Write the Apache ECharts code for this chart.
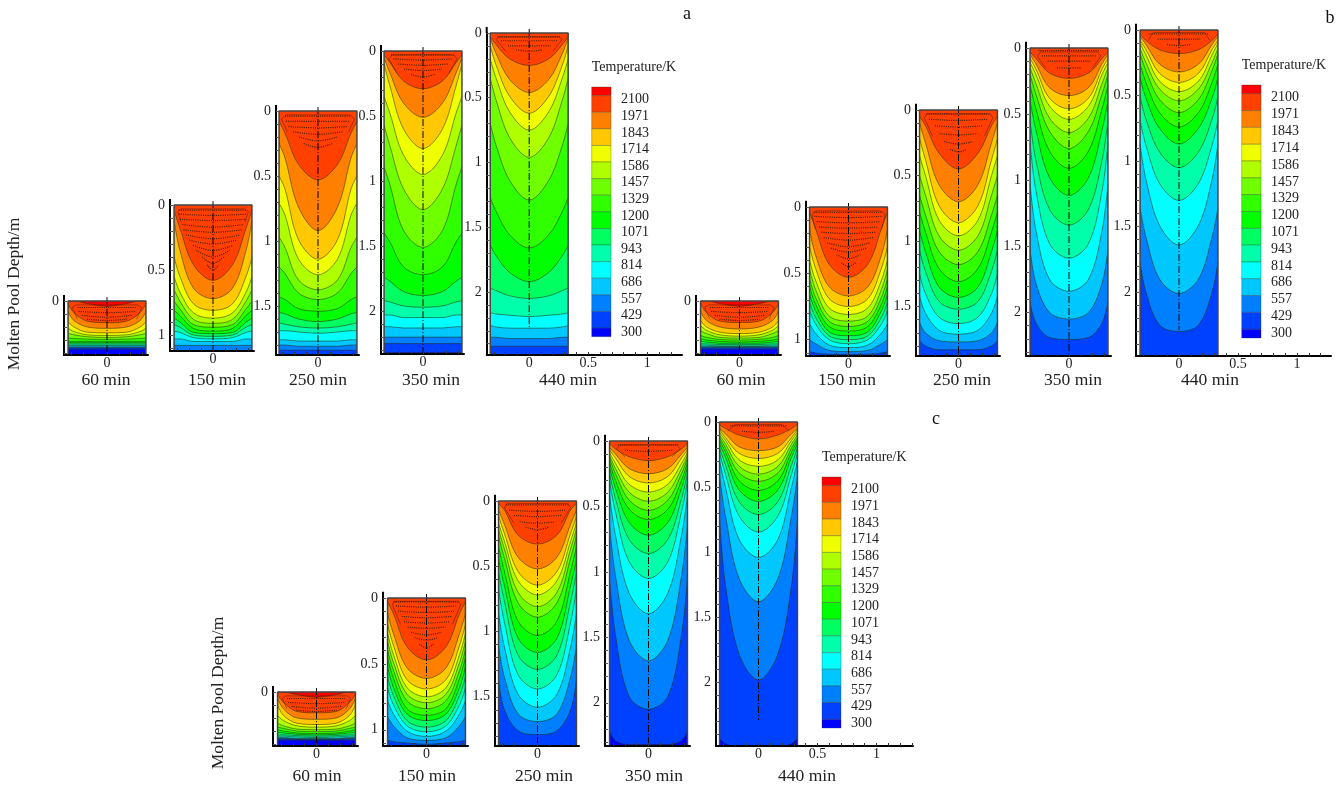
<!DOCTYPE html>
<html><head><meta charset="utf-8">
<style>html,body{margin:0;padding:0;background:#fff}#c{width:1344px;height:789px}</style>
<script src="https://cdn.jsdelivr.net/npm/echarts@6/dist/echarts.min.js"></script>
</head><body><div id="c"></div>
<script>
// temperature levels and colour bands (index 0 = hotter than 2100)
const levels=[2100,1971,1843,1714,1586,1457,1329,1200,1071,943,814,686,557,429,300];
const bandColors=['#ff0000','#ff4000','#ff8000','#ffc800','#f0ff00','#b0ff00','#70ff00','#30ff00','#00ff00','#00ff60','#00ffaa','#00ffff','#00c8ff','#0080ff','#0040ff','#0000ff'];
// half-width positions (m) at which each isotherm was read
const sampleX=[0.33,0.28,0.165,0];
// isotherm depth (m) at sampleX, one row per level from 2100 down to 300
const a60=[[0,0,.02,.04],[.02,.09,.155,.167],[.08,.15,.20,.21],[.16,.20,.24,.245],[.21,.235,.26,.265],[.25,.26,.275,.28],[.285,.288,.293,.295],[.31,.31,.31,.31],[.32,.32,.32,.32],[.33,.33,.33,.33],[.34,.34,.34,.34],[.345,.345,.345,.345],[.355,.355,.355,.355],[.36,.36,.36,.36],[.37,.37,.37,.37]];
const a150=[null,[.04,.18,.46,.58],[.12,.35,.64,.72],[.40,.55,.76,.81],[.55,.67,.83,.87],[.65,.74,.88,.91],[.74,.80,.92,.94],[.81,.85,.95,.97],[.87,.90,.98,.99],[.92,.94,1.00,1.01],[.97,.98,1.02,1.03],[1.03,1.03,1.05,1.05],[1.08,1.08,1.08,1.08],null,null];
const a250=[null,[.08,.17,.41,.53],[.25,.36,.74,.92],[.50,.60,.99,1.14],[.71,.80,1.14,1.26],[.97,1.05,1.30,1.375],[1.20,1.25,1.40,1.45],[1.43,1.45,1.52,1.54],[1.55,1.56,1.60,1.62],[1.63,1.64,1.66,1.67],[1.69,1.69,1.70,1.71],[1.76,1.76,1.77,1.77],[1.80,1.80,1.81,1.81],[1.84,1.84,1.84,1.84],null];
const a350=[null,[.03,.09,.23,.29],[.05,.17,.40,.51],[.10,.27,.60,.75],[.35,.48,.80,.95],[.57,.73,1.06,1.22],[.89,1.03,1.38,1.51],[1.40,1.47,1.66,1.72],[1.74,1.77,1.85,1.88],[1.92,1.93,1.96,1.97],[2.03,2.03,2.05,2.05],[2.12,2.12,2.13,2.13],[2.20,2.20,2.20,2.20],[2.25,2.25,2.25,2.25],[2.32,2.32,2.32,2.32]];
const a440=[null,[.03,.09,.20,.25],[.04,.16,.36,.46],[.10,.25,.49,.62],[.20,.35,.61,.75],[.35,.52,.81,.96],[.70,.87,1.14,1.29],[1.27,1.38,1.56,1.66],[1.64,1.72,1.85,1.92],[1.97,1.99,2.03,2.05],[2.16,2.17,2.18,2.19],[2.26,2.27,2.28,2.28],[2.35,2.35,2.36,2.36],[2.42,2.42,2.42,2.42],null];
const b60=[[0,0,.02,.04],[.02,.09,.155,.165],[.08,.15,.20,.215],[.15,.20,.24,.25],[.19,.225,.26,.27],[.23,.25,.28,.285],[.265,.28,.295,.30],[.29,.30,.31,.315],[.31,.315,.325,.325],[.33,.33,.335,.335],[.34,.34,.345,.345],[.35,.35,.35,.35],[.355,.355,.355,.355],[.36,.36,.36,.36],[.37,.37,.37,.37]];
const b150=[null,[.04,.16,.43,.53],[.17,.36,.60,.67],[.30,.46,.69,.75],[.40,.55,.76,.81],[.47,.62,.82,.86],[.54,.68,.86,.90],[.60,.73,.90,.935],[.66,.78,.94,.97],[.72,.83,.97,1.00],[.78,.88,1.00,1.03],[.88,.95,1.04,1.06],[1.0,1.03,1.08,1.09],[1.09,1.10,1.11,1.11],null];
const b250=[null,[.05,.12,.33,.45],[.10,.25,.57,.70],[.22,.38,.73,.86],[.35,.50,.84,.96],[.50,.65,.96,1.07],[.65,.80,1.08,1.18],[.78,.93,1.21,1.31],[.92,1.08,1.35,1.43],[1.07,1.23,1.46,1.52],[1.25,1.40,1.58,1.63],[1.42,1.55,1.68,1.71],[1.62,1.70,1.76,1.77],[1.76,1.80,1.83,1.83],null];
const b350=[null,[.03,.08,.19,.23],[.05,.12,.30,.36],[.08,.16,.38,.46],[.11,.20,.44,.54],[.15,.27,.53,.64],[.20,.35,.63,.76],[.28,.46,.78,.91],[.40,.62,.98,1.115],[.55,.85,1.22,1.34],[.72,1.08,1.48,1.59],[1.03,1.38,1.75,1.84],[1.52,1.78,2.00,2.05],[1.92,2.08,2.19,2.205],[2.33,2.34,2.35,2.35]];
const b440=[null,[.03,.08,.15,.18],[.05,.11,.26,.32],[.08,.15,.33,.40],[.10,.19,.39,.47],[.14,.25,.45,.54],[.18,.31,.53,.63],[.26,.40,.63,.74],[.36,.52,.75,.87],[.51,.68,.93,1.05],[.69,.88,1.17,1.30],[.87,1.14,1.49,1.64],[1.36,1.58,1.90,2.01],[1.77,2.0,2.25,2.30],null];
const c60=[[0,0,.02,.04],[.02,.08,.15,.16],[.05,.13,.20,.21],[.10,.18,.24,.25],[.18,.22,.26,.27],[.24,.26,.285,.29],[.27,.28,.30,.305],[.29,.30,.315,.32],[.31,.315,.325,.33],[.33,.33,.335,.34],[.34,.34,.345,.35],[.35,.35,.355,.355],[.355,.355,.36,.36],[.36,.36,.365,.365],[.37,.37,.37,.37]];
const c150=[null,[.03,.12,.37,.47],[.12,.27,.53,.61],[.20,.36,.62,.69],[.27,.43,.68,.75],[.33,.49,.73,.795],[.39,.55,.78,.84],[.45,.61,.84,.89],[.52,.68,.88,.93],[.60,.74,.93,.98],[.68,.81,.97,1.015],[.78,.88,1.01,1.05],[.90,.97,1.06,1.08],[1.08,1.09,1.10,1.11],null];
const c250=[null,[.02,.07,.26,.33],[.07,.18,.43,.52],[.12,.25,.54,.645],[.17,.31,.61,.72],[.22,.37,.70,.81],[.27,.44,.78,.89],[.35,.54,.92,1.03],[.45,.65,1.05,1.16],[.55,.77,1.18,1.29],[.68,.93,1.33,1.44],[.86,1.12,1.48,1.58],[1.11,1.35,1.63,1.69],[1.37,1.60,1.76,1.79],null];
const c350=[null,[.02,.06,.12,.15],[.05,.10,.21,.25],[.07,.13,.27,.32],[.09,.17,.33,.39],[.11,.21,.39,.46],[.13,.25,.45,.53],[.16,.30,.52,.60],[.20,.36,.62,.72],[.25,.44,.75,.86],[.31,.54,.92,1.05],[.42,.72,1.16,1.32],[.65,1.03,1.52,1.68],[1.05,1.48,1.95,2.05],[2.22,2.29,2.32,2.32]];
const c440=[null,[.02,.05,.10,.13],[.05,.09,.19,.22],[.06,.12,.24,.28],[.08,.14,.29,.34],[.10,.17,.34,.40],[.12,.20,.39,.455],[.14,.23,.45,.525],[.17,.27,.52,.61],[.20,.33,.61,.71],[.24,.40,.72,.845],[.30,.50,.90,1.04],[.42,.72,1.20,1.38],[.75,1.25,1.78,1.98],[2.43,2.47,2.50,2.50]];
// velocity streak rows: half-width, depth at its ends, depth at centre
const flowA60=[[.25,.05,.05],[.24,.08,.09],[.21,.11,.125],[.17,.14,.15]];
const flowA150=[[.29,.04,.04],[.29,.07,.08],[.28,.11,.12],[.26,.15,.17],[.25,.19,.21],[.23,.23,.26],[.2,.27,.3],[.17,.31,.35],[.14,.35,.4],[.09,.4,.45],[.05,.46,.5]];
const flowA250=[[.28,.04,.04],[.27,.08,.08],[.25,.12,.13],[.21,.16,.18],[.16,.2,.23],[.12,.25,.28]];
const flowA350=[[.27,.03,.03],[.25,.06,.07],[.21,.1,.11],[.16,.14,.15],[.1,.18,.2]];
const flowA440=[[.27,.03,.03],[.24,.06,.06],[.18,.1,.1],[.11,.13,.14]];
const flowB150=[[.29,.04,.04],[.29,.07,.08],[.27,.11,.12],[.25,.15,.16],[.23,.19,.2],[.21,.23,.25],[.18,.27,.3],[.15,.31,.34],[.1,.36,.39],[.06,.42,.45]];
const flowB250=[[.27,.03,.03],[.25,.07,.08],[.2,.12,.13],[.16,.18,.19],[.12,.24,.26],[.07,.3,.32]];
const flowB350=[[.26,.02,.02],[.23,.06,.06],[.18,.1,.1],[.1,.15,.15]];
const flowB440=[[.25,.03,.03],[.18,.07,.07],[.1,.11,.12]];
const flowC150=[[.28,.03,.03],[.26,.06,.07],[.24,.1,.11],[.21,.14,.15],[.19,.18,.19],[.16,.22,.23],[.13,.26,.28],[.1,.3,.32],[.06,.35,.38]];
const flowC250=[[.27,.03,.03],[.24,.07,.08],[.2,.11,.12],[.15,.16,.17],[.1,.2,.22]];
const flowC350=[[.26,.03,.03],[.2,.07,.08]];
const flowC440=[[.24,.03,.03],[.14,.07,.08]];
// outline of the recirculation cell: half-width, depth
const cellA60=[[0,.03],[.26,.03],[.295,.05],[.25,.14]];
const cellA150=[[0,.03],[.27,.03],[.30,.05],[.27,.13]];
const cellA250=[[0,.03],[.27,.03],[.31,.06],[.26,.16]];
const cellA350=[[0,.03],[.26,.03],[.29,.06],[.22,.17]];
const cellA440=[[0,.03],[.25,.03],[.28,.05],[.2,.14]];
const cellB150=[[0,.03],[.28,.03],[.31,.06],[.28,.17]];
const cellB250=[[0,.03],[.27,.03],[.29,.06],[.22,.2]];
const cellB350=[[0,.03],[.24,.03],[.27,.06],[.2,.15]];
const cellB440=[[0,.02],[.22,.02],[.26,.08]];
const cellC60=[[0,.03],[.26,.03],[.29,.05],[.25,.13]];
const cellC150=[[0,.025],[.27,.025],[.29,.05],[.22,.2]];
const cellC250=[[0,.02],[.26,.02],[.28,.05],[.2,.17]];
const cellC350=[[0,.03],[.24,.03],[.27,.06],[.2,.12]];
const cellC440=[[0,.02],[.2,.02],[.26,.07]];
// panel captions and tick labels
const panelTimes=['60 min','150 min','250 min','350 min','440 min'];
const depthTicks=[[0],[0,.5,1],[0,.5,1,1.5],[0,.5,1,1.5,2],[0,.5,1,1.5,2]];
const depthMaxes=[.415,1.123,1.877,2.33,2.487];
const contourSets=[a60,a150,a250,a350,a440,b60,b150,b250,b350,b440,c60,c150,c250,c350,c440];
const flowSets=[flowA60,flowA150,flowA250,flowA350,flowA440,flowA60,flowB150,flowB250,flowB350,flowB440,flowA60,flowC150,flowC250,flowC350,flowC440];
const cellSets=[cellA60,cellA150,cellA250,cellA350,cellA440,cellA60,cellB150,cellB250,cellB350,cellB440,cellC60,cellC150,cellC250,cellC350,cellC440];
// layout in page pixels
const pxPerMeterX=118, wallX=0.33;
const axisPx=[64,170,276,381,486.7,696,806,916,1026,1136,273,383,495,605,716];
const centerPx=[107,213,318,423,529.2,739.5,848.5,958.5,1069,1179,316.5,426.5,537.5,648.5,758.5];
const rightPx=[148,254,359,464,682,781,890,1000,1111,1331,358,468,579,690,913];
const topPx=[301,205,111,51,33,301,207,110,48,30,692,598,501,441,422];
const bottomPx=[355,351,355,354,355,355,356,356,356,356,746,746,746,746,746];
const captionPx=[106,217,318,431,568,741,847,962,1073,1210,317,427,544,654,807];
const captionY=[380,380,776];
const legendBox=[[591.7,87,611,336.7],[1241.7,85,1261,338],[822,477,841,728]];
const legendTitleY=[67,65,457];
const sideTitles=[{t:'a',x:687,y:14},{t:'b',x:1330,y:18},{t:'c',x:936,y:419}];
const yNames=[{x:14,y:294},{x:218,y:693}];

const font='"Liberation Serif"', ink='#222';
const grids=[],xAxes=[],yAxes=[],series=[],graphics=[];
const mirror=r=>[...sampleX.map((x,i)=>[-x,r[i]]),...sampleX.slice(0,3).reverse().map((x,i)=>[x,r[2-i]])];
const seq=(a,b,s)=>{const o=[];for(let i=Math.round(a/s);i<=Math.floor(b/s+1e-6);i++)o.push(+(i*s).toFixed(2));return o;};

contourSets.forEach((rows,p)=>{
  const k=p%5,D=depthMaxes[k],last=k===4;
  const xmin=(axisPx[p]-centerPx[p])/pxPerMeterX, xmax=(rightPx[p]-centerPx[p])/pxPerMeterX;
  grids.push({left:axisPx[p],width:rightPx[p]-axisPx[p],top:topPx[p],height:bottomPx[p]-topPx[p]});
  xAxes.push({gridIndex:p,type:'value',min:xmin,max:xmax,z:10,
    axisLine:{onZero:false,lineStyle:{color:'#000',width:2}},splitLine:{show:false},
    axisTick:{inside:true,length:3,customValues:seq(-.3,xmax,.1),lineStyle:{color:'#333',width:1}},
    axisLabel:{customValues:last?[0,.5,1]:[0],margin:1,fontFamily:font,fontSize:14,color:ink,hideOverlap:false,showMinLabel:true,showMaxLabel:true}});
  yAxes.push({gridIndex:p,type:'value',inverse:true,min:0,max:D,z:10,
    axisLine:{onZero:false,lineStyle:{color:'#000',width:2}},splitLine:{show:false},
    axisTick:{inside:true,length:3,customValues:seq(0,D,.1),lineStyle:{color:'#555',width:1}},
    axisLabel:{customValues:depthTicks[k],margin:5,fontFamily:font,fontSize:14,color:ink,showMinLabel:true,showMaxLabel:true}});
  const base={xAxisIndex:p,yAxisIndex:p,type:'line',symbol:'none',silent:true,animation:false};
  let deepest=-1; rows.forEach((r,i)=>{if(r)deepest=i;});
  series.push({...base,data:[[-wallX,D],[wallX,D]],lineStyle:{width:0},areaStyle:{color:bandColors[deepest+1],opacity:1,origin:'start'}});
  for(let i=deepest;i>=0;i--){ if(!rows[i])continue;
    series.push({...base,smooth:.35,data:mirror(rows[i]),
      lineStyle:{color:'#242400',opacity:.65,width:.8},areaStyle:{color:bandColors[i],opacity:1,origin:'start'}});
  }
  flowSets[p].forEach(f=>series.push({...base,smooth:.35,data:[[-f[0],f[1]],[0,f[2]],[f[0],f[1]]],
    lineStyle:{color:'#4a1800',width:1.2,type:[1,1.2]}}));
  const cell=cellSets[p];
  series.push({...base,data:[...cell.slice().reverse().map(c=>[-c[0],c[1]]),...cell.slice(1).map(c=>[c[0],c[1]])],
    lineStyle:{color:'#4a1800',width:.8,opacity:.6}});
  // centre line, walls, upper extension of the depth axis
  series.push({...base,clip:false,data:[[0,-.03],[0,last?D*.92:D]],lineStyle:{color:'#000',width:1,type:[7,2,1,2]}});
  series.push({...base,clip:false,data:[[-wallX,D],[-wallX,0],[wallX,0],[wallX,D]],lineStyle:{color:'#444',width:1.5}});
  series.push({...base,clip:false,data:[[xmin,0],[xmin,-.047]],lineStyle:{color:'#000',width:2}});
  const g=Math.floor(p/5);
  graphics.push({type:'text',x:captionPx[p],y:captionY[g],style:{text:panelTimes[k],font:'17.5px '+font,fill:ink,textAlign:'center',textVerticalAlign:'middle'}});
});

// colour legends
legendBox.forEach((b,i)=>{
  const p=grids.length;
  grids.push({left:b[0],width:b[2]-b[0],top:b[1],height:b[3]-b[1]});
  xAxes.push({gridIndex:p,type:'value',min:0,max:1,show:false});
  yAxes.push({gridIndex:p,type:'value',position:'right',min:233,max:2167,
    axisLine:{show:false},axisTick:{show:false},splitLine:{show:false},
    axisLabel:{customValues:levels,formatter:v=>String(v),margin:10,fontFamily:font,fontSize:14,color:ink,verticalAlign:'top',lineHeight:8}});
  const edges=[2167,...levels,233];
  series.push({type:'custom',xAxisIndex:p,yAxisIndex:p,silent:true,animation:false,
    data:bandColors.map((c,j)=>({value:[edges[j+1],edges[j]],itemStyle:{color:c}})),
    encode:{y:[0,1]},
    renderItem:(params,api)=>{
      const a=api.coord([0,api.value(1)]),z=api.coord([1,api.value(0)]);
      return {type:'rect',shape:{x:a[0],y:a[1],width:z[0]-a[0],height:z[1]-a[1]},style:{fill:api.visual('color'),stroke:'rgba(40,60,40,.45)',lineWidth:.7}};
    }});
  graphics.push({type:'text',x:b[0],y:legendTitleY[i],style:{text:'Temperature/K',font:'14px '+font,fill:ink,textVerticalAlign:'middle'}});
});
sideTitles.forEach(s=>graphics.push({type:'text',x:s.x,y:s.y,style:{text:s.t,font:'18px '+font,fill:'#111',textAlign:'center',textVerticalAlign:'middle'}}));
yNames.forEach(s=>graphics.push({type:'text',x:s.x,y:s.y,rotation:Math.PI/2,style:{text:'Molten Pool Depth/m',font:'17.5px '+font,fill:ink,textAlign:'center',textVerticalAlign:'middle'}}));

echarts.init(document.getElementById('c'),null,{renderer:'canvas'}).setOption({
  backgroundColor:'#fff',animation:false,grid:grids,xAxis:xAxes,yAxis:yAxes,series,graphic:graphics});
</script></body></html>
